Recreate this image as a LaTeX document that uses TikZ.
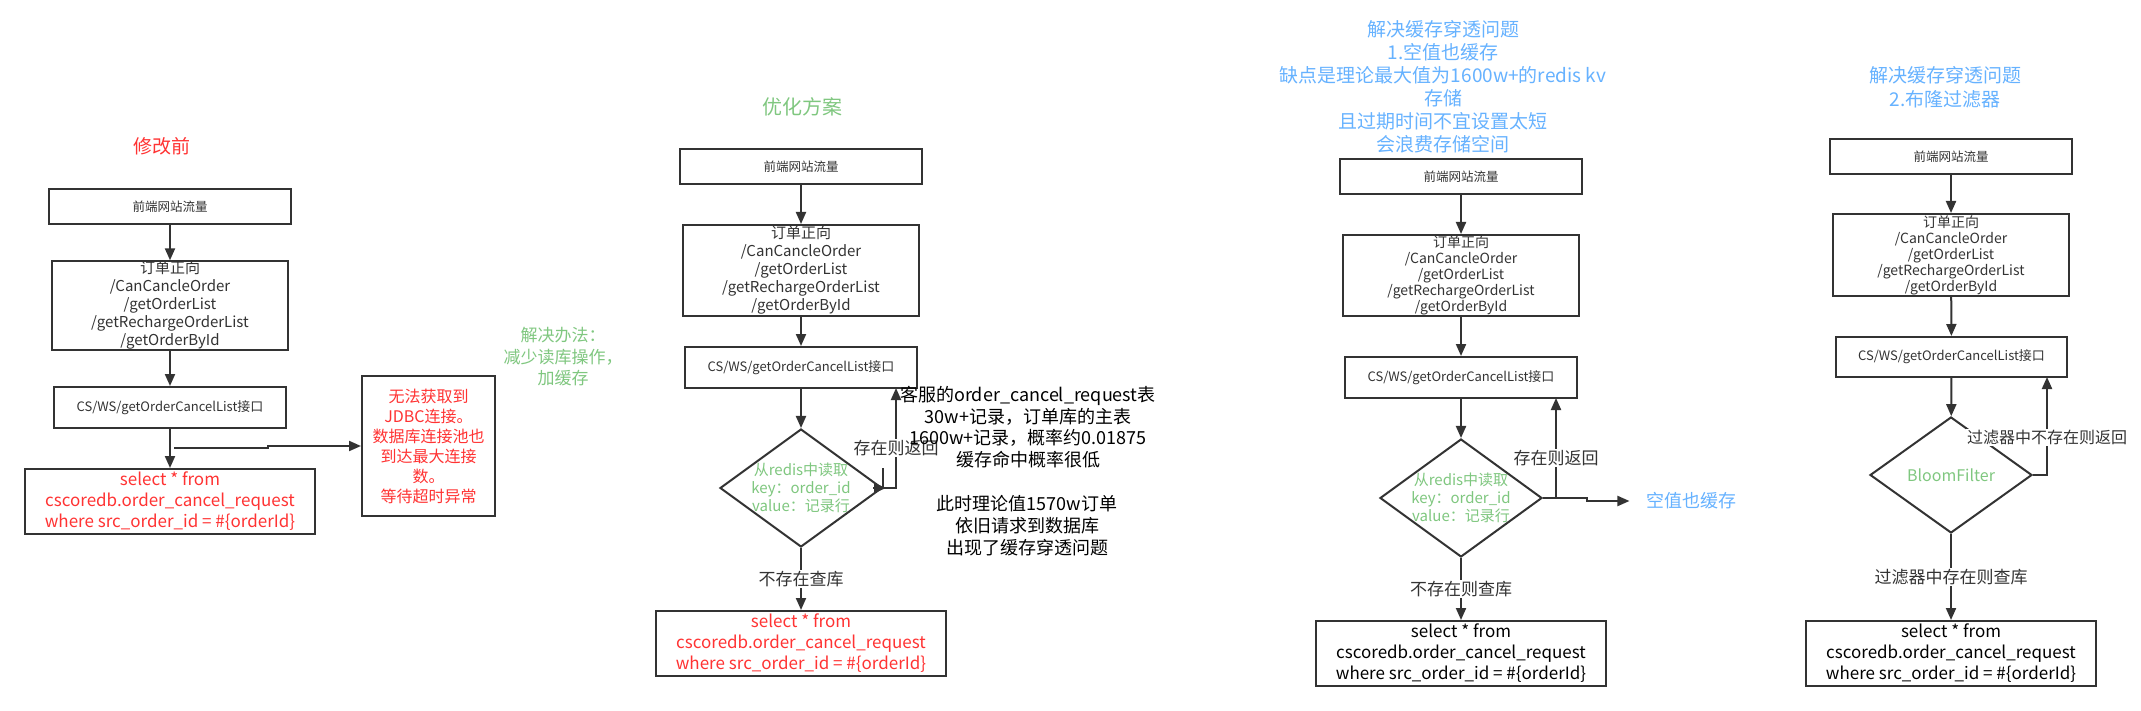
\documentclass[tikz,border=0pt]{standalone}
\usepackage{fontspec}
\setmainfont{Noto Sans CJK SC}
\usetikzlibrary{positioning,shapes.geometric,arrows.meta}

\definecolor{linegray}{HTML}{333333}
\definecolor{textgray}{HTML}{333333}
\definecolor{notered}{HTML}{FF3333}
\definecolor{notegreen}{HTML}{7FC77F}
\definecolor{noteblue}{HTML}{66B2FF}

\tikzset{
  box/.style={draw=linegray, line width=2pt, inner sep=0pt, align=center, text=textgray},
  decision/.style={draw=linegray, line width=2pt, diamond, inner sep=0pt, minimum width=162pt, minimum height=118pt},
  flow/.style={draw=linegray, line width=2pt, -{Triangle[length=12pt,width=10pt]}},
  edgelabel/.style={fill=white, inner sep=1pt, text=textgray, font=\fontsize{17}{20}\selectfont},
  small/.style={font=\fontsize{12.5}{15}\selectfont},
  apis/.style={font=\fontsize{15}{18}\selectfont},
  sql/.style={font=\fontsize{17}{21}\selectfont},
}

\begin{document}
\begin{tikzpicture}[x=1pt,y=-1pt]
\fill[white] (0,0) rectangle (2141,711);

% before
\node[text=notered, font=\fontsize{19}{22}\selectfont] (t1) at (162,146) {修改前};
\node[box, small, minimum width=242pt, minimum height=35pt] (a1) at (170,206.5) {前端网站流量};
\node[box, apis, minimum width=236pt, minimum height=87pt] (b1) at (170,305.5) {订单正向\\/CanCancleOrder\\/getOrderList\\/getRechargeOrderList\\/getOrderById};
\node[box, small, font=\fontsize{13}{15}\selectfont, minimum width=232pt, minimum height=41pt] (c1) at (170,407.5) {CS/WS/getOrderCancelList接口};
\node[box, sql, text=notered, minimum width=290pt, minimum height=65pt] (d1) at (170,501.5) {select * from\\cscoredb.order\_cancel\_request\\where src\_order\_id = \#\{orderId\}};
\node[box, text=notered, font=\fontsize{16}{20}\selectfont, minimum width=133pt, minimum height=140pt] (e1) at (428.5,446) {无法获取到\\JDBC连接。\\数据库连接池也\\到达最大连接\\数。\\等待超时异常};
\coordinate (k1) at (174,448);

\draw[flow] (a1) -- (b1);
\draw[flow] (b1) -- (c1);
\draw[flow] (c1) -- (d1);
\draw[flow] (k1) -- ++(94,0) |- (e1.west);

\node[text=notegreen, align=center, font=\fontsize{17}{21.5}\selectfont] (fix) at (563,357) {解决办法：\\减少读库操作，\\加缓存};

% cache
\node[text=notegreen, font=\fontsize{20}{23}\selectfont] (t2) at (802,107) {优化方案};
\node[box, small, minimum width=242pt, minimum height=35pt] (a2) at (801,166.5) {前端网站流量};
\node[box, apis, minimum width=236pt, minimum height=91pt] (b2) at (801,270.5) {订单正向\\/CanCancleOrder\\/getOrderList\\/getRechargeOrderList\\/getOrderById};
\node[box, font=\fontsize{13}{15}\selectfont, minimum width=232pt, minimum height=41pt] (c2) at (801,367.5) {CS/WS/getOrderCancelList接口};
\node[decision] (d2) at (801,488) {};
\node[text=notegreen, align=center, font=\fontsize{15}{18}\selectfont] (d2t) at (d2) {从redis中读取\\key：order\_id\\value：记录行};
\node[box, sql, text=notered, minimum width=290pt, minimum height=65pt] (e2) at (801,643.5) {select * from\\cscoredb.order\_cancel\_request\\where src\_order\_id = \#\{orderId\}};
\coordinate (r2) at (896,388);
\coordinate (k2) at (883,468);

\draw[flow] (a2) -- (b2);
\draw[flow] (b2) -- (c2);
\draw[flow] (c2) -- (d2);
\draw[flow] (d2.east) -| (r2) node[edgelabel, pos=0.7] {存在则返回};
\draw[line width=2pt, draw=linegray] (k2) -- (k2 |- d2.east);
\draw[flow] (d2.east) ++(-10,0) -- ++(13,0);
\draw[flow] (d2) -- (e2) node[edgelabel, midway] {不存在查库};

\node[align=center, font=\fontsize{18}{21.5}\selectfont] (n2a) at (1028,427) {客服的order\_cancel\_request表\\30w+记录，订单库的主表\\1600w+记录，概率约0.01875\\缓存命中概率很低};
\node[align=center, font=\fontsize{18}{22}\selectfont] (n2b) at (1027,526) {此时理论值1570w订单\\依旧请求到数据库\\出现了缓存穿透问题};

% null cache
\node[text=noteblue, align=center, font=\fontsize{19}{23}\selectfont] (t3) at (1443,86.5) {解决缓存穿透问题\\1.空值也缓存\\缺点是理论最大值为1600w+的redis kv\\存储\\且过期时间不宜设置太短\\会浪费存储空间};
\node[box, small, minimum width=242pt, minimum height=35pt] (a3) at (1461,176.5) {前端网站流量};
\node[box, font=\fontsize{14}{16}\selectfont, minimum width=236pt, minimum height=81pt] (b3) at (1461,275.5) {订单正向\\/CanCancleOrder\\/getOrderList\\/getRechargeOrderList\\/getOrderById};
\node[box, font=\fontsize{13}{15}\selectfont, minimum width=232pt, minimum height=41pt] (c3) at (1461,377.5) {CS/WS/getOrderCancelList接口};
\node[decision] (d3) at (1461,498) {};
\node[text=notegreen, align=center, font=\fontsize{15}{18}\selectfont] (d3t) at (d3) {从redis中读取\\key：order\_id\\value：记录行};
\node[box, sql, text=black, minimum width=290pt, minimum height=65pt] (e3) at (1461,653.5) {select * from\\cscoredb.order\_cancel\_request\\where src\_order\_id = \#\{orderId\}};
\node[text=noteblue, font=\fontsize{18}{21}\selectfont] (v3) at (1691,501) {空值也缓存};
\coordinate (r3) at (1556,398);

\draw[flow] (a3) -- (b3);
\draw[flow] (b3) -- (c3);
\draw[flow] (c3) -- (d3);
\draw[flow] (d3.east) -| (r3) node[edgelabel, pos=0.7] {存在则返回};
\draw[flow, shorten >=13pt] (d3.east) -- ++(44,0) |- (v3.west);
\draw[flow] (d3) -- (e3) node[edgelabel, midway] {不存在则查库};

% bloom filter
\node[text=noteblue, align=center, font=\fontsize{19}{24}\selectfont] (t4) at (1945,87) {解决缓存穿透问题\\2.布隆过滤器};
\node[box, small, minimum width=242pt, minimum height=35pt] (a4) at (1951,156.5) {前端网站流量};
\node[box, font=\fontsize{14}{16}\selectfont, minimum width=236pt, minimum height=82pt] (b4) at (1951,255) {订单正向\\/CanCancleOrder\\/getOrderList\\/getRechargeOrderList\\/getOrderById};
\node[box, font=\fontsize{13}{15}\selectfont, minimum width=231pt, minimum height=40pt] (c4) at (1951.5,357) {CS/WS/getOrderCancelList接口};
\node[decision, minimum height=116pt] (d4) at (1951,475) {};
\node[text=notegreen, font=\fontsize{16}{19}\selectfont] (d4t) at (d4) {BloomFilter};
\node[box, sql, text=black, minimum width=290pt, minimum height=65pt] (e4) at (1951,653.5) {select * from\\cscoredb.order\_cancel\_request\\where src\_order\_id = \#\{orderId\}};
\coordinate (r4) at (2047,377);

\draw[flow] (a4) -- (b4);
\draw[flow] (b4) -- (c4);
\draw[flow] (c4) -- (d4);
\draw[flow] (d4.east) -| (r4) node[edgelabel, font=\fontsize{16}{19}\selectfont, pos=0.69] {过滤器中不存在则返回};
\draw[flow] (d4) -- (e4) node[edgelabel, midway] {过滤器中存在则查库};
\end{tikzpicture}
\end{document}
